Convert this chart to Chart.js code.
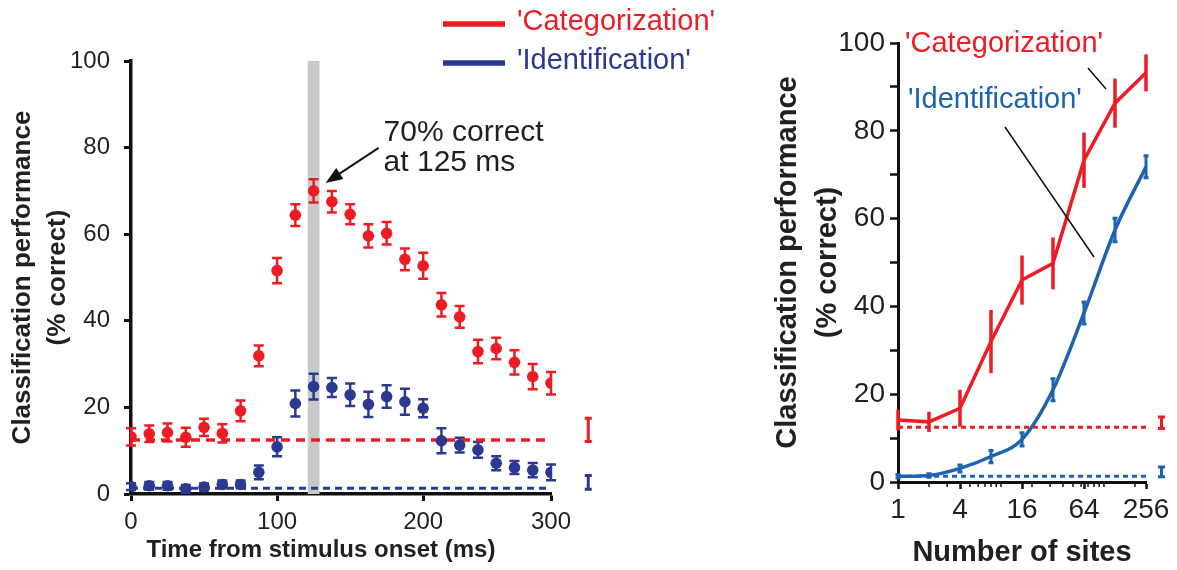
<!DOCTYPE html>
<html>
<head>
<meta charset="utf-8">
<script src="https://cdn.jsdelivr.net/npm/chart.js@4.4.1/dist/chart.umd.min.js"></script>
<style>
  html, body { margin: 0; padding: 0; background: #fff; }
  #painel { position: relative; width: 1177px; height: 570px; }
  #grafTempo { position: absolute; left: 0; top: 0; }
  #grafSitios { position: absolute; left: 760px; top: 0; }
</style>
</head>
<body>
<div id="painel">
  <canvas id="grafTempo" width="760" height="570"></canvas>
  <canvas id="grafSitios" width="417" height="570"></canvas>
</div>
<script>
// dados - desempenho ao longo do tempo
const tempos = [0, 12.5, 25, 37.5, 50, 62.5, 75, 87.5, 100, 112.5, 125, 137.5, 150, 162.5, 175, 187.5, 200, 212.5, 225, 237.5, 250, 262.5, 275, 287.5];
const catTempo = [13.2, 13.9, 14.2, 13.1, 15.4, 14.0, 19.2, 31.9, 51.6, 64.4, 70, 67.5, 64.6, 59.6, 60.2, 54.2, 52.7, 43.7, 40.9, 32.9, 33.6, 30.4, 27.1, 25.6];
const catTempoErro = [2.0, 1.9, 2.1, 2.2, 2.0, 2.1, 2.4, 2.4, 2.9, 2.5, 2.7, 2.5, 2.3, 2.7, 2.6, 2.5, 3.0, 2.7, 2.5, 2.7, 2.5, 2.8, 2.9, 2.6];
const idTempo = [1.7, 1.9, 1.9, 1.2, 1.6, 2.2, 2.2, 5.0, 10.9, 20.9, 24.8, 24.6, 22.9, 20.7, 22.5, 21.3, 19.8, 12.3, 11.3, 10.2, 7.1, 6.1, 5.5, 5.0];
const idTempoErro = [0.8, 0.9, 0.9, 0.9, 0.8, 0.9, 0.9, 1.6, 2.2, 3.0, 3.0, 2.2, 2.6, 2.9, 2.6, 3.0, 2.1, 2.9, 1.7, 1.8, 1.6, 1.5, 1.65, 1.8];
const ticksTempo = [0, 100, 200, 287.5];
const rotulosTempo = ['0', '100', '200', '300'];
const picoTempo = 10;                 // indice do melhor ponto (125 ms)
const faixaTempo = [121, 129];        // janela cinza em ms
const acasoTempoX = [0, 287.5];
const embaralhadoTempoX = 313;
const embaralhadoCat = [14.8, 2.7];   // media, erro
const embaralhadoId = [2.7, 1.6];

// dados - desempenho x numero de sitios
const sitios = [1, 2, 4, 8, 16, 32, 64, 128, 256];
const catSitios = [14.1, 13.7, 16.8, 32.0, 46.0, 49.8, 73.3, 86.3, 93.2];
const catSitiosErro = [2.4, 2.3, 4.2, 7.2, 5.6, 5.9, 6.3, 5.6, 4.2];
const idSitios = [1.3, 1.5, 3.1, 5.8, 9.7, 21.0, 38.5, 57.4, 71.8];
const idSitiosErro = [0.4, 0.4, 0.8, 1.4, 1.5, 2.5, 2.5, 2.7, 2.5];
const ticksSitios = [1, 4, 16, 64, 256];
const ticksSitiosMenores = [2, 3, 5, 6, 7, 8, 9, 10, 20, 30, 40, 50, 60, 70, 80, 90, 100, 200];
const acasoSitiosX = [1, 256];
const embaralhadoSitiosX = 362;
const embaralhadoSitiosCat = [13.5, 1.3];
const embaralhadoSitiosId = [2.3, 1.1];

// chance
const acasoCat = 12.5;
const acasoId = 1.3;

const fonte = '"Liberation Sans", Arial, Helvetica, sans-serif';
const vermelho = 'rgb(237, 28, 36)';
const azulEscuro = 'rgb(43, 57, 144)';
const azul = 'rgb(28, 99, 176)';
const tinta = '#231f20';

const pares = (xs, ys) => xs.map((x, i) => ({ x: x, y: ys[i] }));

// barras de erro verticais
function desenhaErros(chart) {
  const { ctx, scales: { x, y } } = chart;
  chart.data.datasets.forEach((ds) => {
    if (!ds.erros) return;
    ctx.save();
    ctx.strokeStyle = ds.corErro || ds.borderColor;
    ctx.lineWidth = ds.larguraErro || 2.5;
    ds.data.forEach((p, i) => {
      const px = x.getPixelForValue(p.x);
      const y1 = y.getPixelForValue(p.y - ds.erros[i]);
      const y2 = y.getPixelForValue(p.y + ds.erros[i]);
      const c = ds.capa || 0;
      ctx.beginPath();
      ctx.moveTo(px, y1);
      ctx.lineTo(px, y2);
      if (c) {
        ctx.moveTo(px - c, y1); ctx.lineTo(px + c, y1);
        ctx.moveTo(px - c, y2); ctx.lineTo(px + c, y2);
      }
      ctx.stroke();
    });
    ctx.restore();
  });
}

const barrasErro = {
  id: 'barrasErro',
  beforeDatasetsDraw(chart, args, opts) { if (opts.embaixo) desenhaErros(chart); },
  afterDatasetsDraw(chart, args, opts) { if (!opts.embaixo) desenhaErros(chart); }
};

//Inicio Grafico Tempo
const faixaCinza = {
  id: 'faixaCinza',
  beforeDatasetsDraw(chart) {
    const { ctx, scales: { x, y } } = chart;
    const x1 = x.getPixelForValue(faixaTempo[0]);
    const x2 = x.getPixelForValue(faixaTempo[1]);
    ctx.save();
    ctx.fillStyle = 'rgb(200, 201, 203)';
    ctx.fillRect(x1, y.getPixelForValue(100), x2 - x1, y.getPixelForValue(0) - y.getPixelForValue(100));
    ctx.restore();
  }
};

const notasTempo = {
  id: 'notasTempo',
  afterDraw(chart) {
    const { ctx, scales: { x, y } } = chart;
    const px = x.getPixelForValue(tempos[picoTempo]);
    const py = y.getPixelForValue(catTempo[picoTempo]);
    ctx.save();
    // seta
    const tx = px + 12, ty = py - 8;
    const sx = px + 65, sy = py - 43;
    const ang = Math.atan2(ty - sy, tx - sx);
    ctx.strokeStyle = '#111';
    ctx.fillStyle = '#111';
    ctx.lineWidth = 2;
    ctx.beginPath();
    ctx.moveTo(sx, sy);
    ctx.lineTo(tx - 10 * Math.cos(ang), ty - 10 * Math.sin(ang));
    ctx.stroke();
    ctx.beginPath();
    ctx.moveTo(tx, ty);
    ctx.lineTo(tx - 17 * Math.cos(ang) + 6.5 * Math.sin(ang), ty - 17 * Math.sin(ang) - 6.5 * Math.cos(ang));
    ctx.lineTo(tx - 17 * Math.cos(ang) - 6.5 * Math.sin(ang), ty - 17 * Math.sin(ang) + 6.5 * Math.cos(ang));
    ctx.closePath();
    ctx.fill();
    // texto
    ctx.fillStyle = tinta;
    ctx.font = '30px ' + fonte;
    ctx.textAlign = 'left';
    ctx.textBaseline = 'middle';
    ctx.fillText(catTempo[picoTempo] + '% correct', px + 70, py - 58);
    ctx.fillText('at ' + tempos[picoTempo] + ' ms', px + 70, py - 28);
    // titulo do eixo x, um pouco deslocado para a esquerda
    ctx.fillStyle = tinta;
    ctx.font = 'bold 24px ' + fonte;
    ctx.textAlign = 'center';
    ctx.fillText('Time from stimulus onset (ms)', x.getPixelForValue(130), 550);
    // legenda
    const itens = [['\'Categorization\'', vermelho, 24], ['\'Identification\'', azulEscuro, 63]];
    ctx.font = '29px ' + fonte;
    ctx.textAlign = 'left';
    itens.forEach(([txt, cor, ly]) => {
      ctx.strokeStyle = cor;
      ctx.lineWidth = 5.5;
      ctx.beginPath();
      ctx.moveTo(443, ly);
      ctx.lineTo(505, ly);
      ctx.stroke();
      ctx.fillStyle = cor;
      ctx.fillText(txt, 517, ly - 2);
    });
    ctx.restore();
  }
};

const ctt = document.getElementById('grafTempo').getContext('2d');

const grafTempo = new Chart(ctt, {
  type: 'scatter',
  data: {
    datasets: [{
      data: pares(tempos, catTempo),
      backgroundColor: vermelho,
      borderColor: vermelho,
      pointRadius: 5.8,
      pointBorderWidth: 0,
      showLine: false,
      erros: catTempoErro,
      capa: 5,
      larguraErro: 2.5
    }, {
      data: pares(tempos, idTempo),
      backgroundColor: azulEscuro,
      borderColor: azulEscuro,
      pointRadius: 5.8,
      pointBorderWidth: 0,
      showLine: false,
      erros: idTempoErro,
      capa: 5,
      larguraErro: 2.5
    }, {
      data: [{ x: embaralhadoTempoX, y: embaralhadoCat[0] }],
      borderColor: vermelho,
      pointRadius: 0,
      clip: false,
      erros: [embaralhadoCat[1]],
      capa: 3.5,
      larguraErro: 3
    }, {
      data: [{ x: embaralhadoTempoX, y: embaralhadoId[0] }],
      borderColor: azulEscuro,
      pointRadius: 0,
      clip: false,
      erros: [embaralhadoId[1]],
      capa: 3.5,
      larguraErro: 3
    }, {
      data: pares(acasoTempoX, [acasoCat, acasoCat]),
      borderColor: vermelho,
      borderWidth: 3.5,
      borderDash: [9, 6],
      pointRadius: 0,
      showLine: true
    }, {
      data: pares(acasoTempoX, [acasoId, acasoId]),
      borderColor: azulEscuro,
      borderWidth: 3,
      borderDash: [7, 5],
      pointRadius: 0,
      showLine: true
    }]
  },
  options: {
    responsive: false,
    animation: false,
    events: [],
    layout: { padding: { top: 61, right: 209, bottom: 0, left: 0 } },
    plugins: {
      legend: { display: false },
      tooltip: { enabled: false },
      barrasErro: { embaixo: true }
    },
    scales: {
      x: {
        type: 'linear',
        min: 0,
        max: 287.5,
        afterBuildTicks: (s) => { s.ticks = ticksTempo.map((v) => ({ value: v })); },
        afterFit: (s) => { s.height = 76; },
        grid: { drawOnChartArea: false, drawTicks: true, tickLength: 7, tickWidth: 3, tickColor: '#111' },
        border: { display: true, color: '#111', width: 3.5 },
        ticks: {
          color: tinta,
          font: { family: fonte, size: 24 },
          padding: 7,
          maxRotation: 0,
          autoSkip: false,
          callback: (v, i) => rotulosTempo[i]
        },
        title: { display: false }
      },
      y: {
        min: 0,
        max: 100,
        afterFit: (s) => { s.width = 131; },
        grid: { drawOnChartArea: false, drawTicks: true, tickLength: 7, tickWidth: 3, tickColor: '#111' },
        border: { display: true, color: '#111', width: 3.5 },
        ticks: { stepSize: 20, color: tinta, font: { family: fonte, size: 24 }, padding: 14 },
        title: {
          display: true,
          text: ['Classification performance', '(% correct)'],
          color: tinta,
          font: { family: fonte, size: 26, weight: 'bold', lineHeight: 1.346 },
          padding: { top: 5, bottom: 0 }
        }
      }
    }
  },
  plugins: [faixaCinza, barrasErro, notasTempo]
});
//Fim Grafico Tempo

//Inicio Grafico Sitios
const notasSitios = {
  id: 'notasSitios',
  afterDraw(chart) {
    const { ctx, scales: { x } } = chart;
    ctx.save();
    // ticks menores do eixo log
    ctx.strokeStyle = '#111';
    ctx.lineWidth = 1.5;
    const base = chart.chartArea.bottom;
    ticksSitiosMenores.forEach((v) => {
      const px = x.getPixelForValue(v);
      ctx.beginPath();
      ctx.moveTo(px, base);
      ctx.lineTo(px, base + 5);
      ctx.stroke();
    });
    // rotulos das curvas
    ctx.font = '29px ' + fonte;
    ctx.textAlign = 'left';
    ctx.textBaseline = 'middle';
    ctx.fillStyle = vermelho;
    ctx.fillText('\'Categorization\'', 145, 44);
    ctx.fillStyle = azul;
    ctx.fillText('\'Identification\'', 148, 100);
    ctx.strokeStyle = '#111';
    ctx.lineWidth = 1.5;
    ctx.beginPath();
    ctx.moveTo(328, 68); ctx.lineTo(346, 89);
    ctx.moveTo(245, 127); ctx.lineTo(334, 257);
    ctx.stroke();
    ctx.restore();
  }
};

const cts = document.getElementById('grafSitios').getContext('2d');

const grafSitios = new Chart(cts, {
  type: 'scatter',
  data: {
    datasets: [{
      data: pares(sitios, catSitios),
      borderColor: vermelho,
      borderWidth: 3.5,
      pointRadius: 0,
      showLine: true,
      erros: catSitiosErro,
      capa: 0,
      larguraErro: 3.5
    }, {
      data: pares(sitios, idSitios),
      borderColor: azul,
      borderWidth: 3.5,
      pointRadius: 0,
      showLine: true,
      cubicInterpolationMode: 'monotone',
      erros: idSitiosErro,
      capa: 2.5,
      larguraErro: 3
    }, {
      data: pares(acasoSitiosX, [acasoCat, acasoCat]),
      borderColor: vermelho,
      borderWidth: 3,
      borderDash: [5, 4],
      pointRadius: 0,
      showLine: true
    }, {
      data: pares(acasoSitiosX, [acasoId, acasoId]),
      borderColor: azul,
      borderWidth: 3,
      borderDash: [5, 4],
      pointRadius: 0,
      showLine: true
    }, {
      data: [{ x: embaralhadoSitiosX, y: embaralhadoSitiosCat[0] }],
      borderColor: vermelho,
      pointRadius: 0,
      clip: false,
      erros: [embaralhadoSitiosCat[1]],
      capa: 3.5,
      larguraErro: 3
    }, {
      data: [{ x: embaralhadoSitiosX, y: embaralhadoSitiosId[0] }],
      borderColor: azul,
      pointRadius: 0,
      clip: false,
      erros: [embaralhadoSitiosId[1]],
      capa: 3.5,
      larguraErro: 3
    }]
  },
  options: {
    responsive: false,
    animation: false,
    events: [],
    layout: { padding: { top: 43, right: 31, bottom: 0, left: 0 } },
    plugins: {
      legend: { display: false },
      tooltip: { enabled: false },
      barrasErro: { embaixo: false }
    },
    scales: {
      x: {
        type: 'logarithmic',
        min: 1,
        max: 256,
        afterBuildTicks: (s) => { s.ticks = ticksSitios.map((v) => ({ value: v })); },
        afterFit: (s) => { s.height = 88; },
        grid: { drawOnChartArea: false, drawTicks: true, tickLength: 7, tickWidth: 2.5, tickColor: '#111' },
        border: { display: true, color: '#111', width: 3 },
        ticks: {
          color: tinta,
          font: { family: fonte, size: 28 },
          padding: 4,
          maxRotation: 0,
          autoSkip: false,
          callback: (v) => String(v)
        },
        title: {
          display: true,
          text: 'Number of sites',
          color: tinta,
          font: { family: fonte, size: 29, weight: 'bold' },
          padding: { top: 0, bottom: 0 }
        }
      },
      y: {
        min: 0,
        max: 100,
        afterFit: (s) => { s.width = 138; },
        grid: { drawOnChartArea: false, drawTicks: true, tickLength: 8, tickWidth: 2.5, tickColor: '#111' },
        border: { display: true, color: '#111', width: 3 },
        ticks: {
          stepSize: 10,
          color: tinta,
          font: { family: fonte, size: 28 },
          padding: 5,
          callback: (v) => (v % 20 === 0 ? String(v) : '')
        },
        title: {
          display: true,
          text: ['Classification performance', '(% correct)'],
          color: tinta,
          font: { family: fonte, size: 29, weight: 'bold', lineHeight: 1.38 },
          padding: { top: 8, bottom: 0 }
        }
      }
    }
  },
  plugins: [barrasErro, notasSitios]
});
//Fim Grafico Sitios
</script>
</body>
</html>
